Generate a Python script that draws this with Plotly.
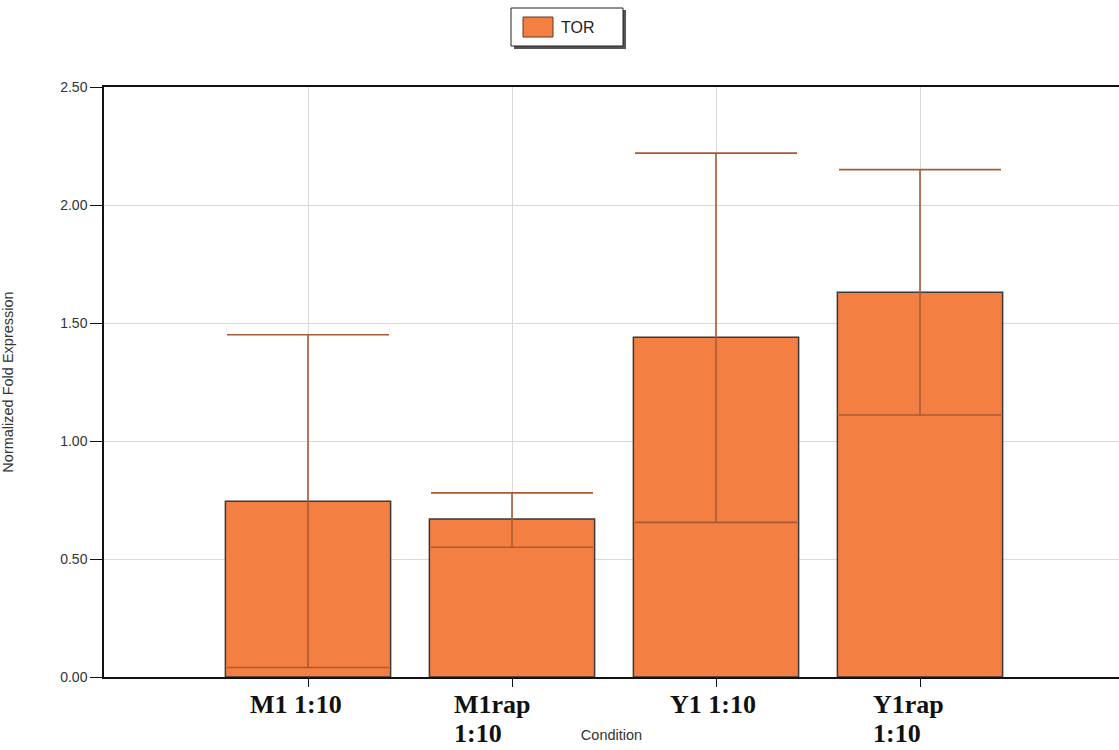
import plotly.graph_objects as go

# Normalized fold expression of TOR per condition
conditions = ["M1 1:10", "M1rap 1:10", "Y1 1:10", "Y1rap 1:10"]
label_line1 = ["M1 1:10", "M1rap", "Y1 1:10", "Y1rap"]
label_line2 = ["", "1:10", "", "1:10"]
label_shift = [-60, -60, -48, -49]
expression = [0.745, 0.67, 1.44, 1.63]
error_plus = [0.705, 0.11, 0.78, 0.52]
error_minus = [0.705, 0.12, 0.785, 0.52]
y_ticks = [0.0, 0.5, 1.0, 1.5, 2.0, 2.5]

BAR = "#f47f43"
EDGE = "#3a3a3a"
ERR = "#a85a35"
SERIF = "Liberation Serif, Times New Roman, serif"

W, H = 1119, 750
L, R, T, B = 104, 0, 87, 73
PW, PH = W - L - R, H - T - B


def px(x):
    return (x - L) / PW


def py(y):
    return (H - B - y) / PH


xpos = list(range(len(conditions)))

fig = go.Figure()
fig.add_trace(go.Bar(
    x=xpos,
    y=expression,
    width=0.81,
    name="TOR",
    marker=dict(color=BAR, line=dict(color=EDGE, width=1.5)),
    error_y=dict(type="data", array=error_plus, arrayminus=error_minus,
                 symmetric=False, color=ERR, thickness=1.6, width=81),
    showlegend=False,
))

# category labels under the axis (second line where the label wraps)
for i, (l1, l2, sh) in enumerate(zip(label_line1, label_line2, label_shift)):
    fig.add_annotation(
        x=i, xref="x", y=py(688), yref="paper",
        text=f"<b>{l1}</b>", showarrow=False,
        xanchor="left", yanchor="top", align="left", xshift=sh,
        font=dict(family=SERIF, size=26, color="#111111"),
    )
    if l2:
        fig.add_annotation(
            x=i, xref="x", y=py(750), yref="paper",
            text=f"<b>{l2}</b>", showarrow=False,
            xanchor="left", yanchor="bottom", align="left", xshift=sh,
            font=dict(family=SERIF, size=26, color="#111111"),
        )

# legend box
fig.add_shape(type="rect", xref="paper", yref="paper",
              x0=px(514), x1=px(626), y0=py(49), y1=py(10),
              line=dict(width=0), fillcolor="#555555", layer="above")
fig.add_shape(type="rect", xref="paper", yref="paper",
              x0=px(511), x1=px(623), y0=py(46), y1=py(8),
              line=dict(color="#222222", width=1), fillcolor="white", layer="above")
fig.add_shape(type="rect", xref="paper", yref="paper",
              x0=px(523), x1=px(553), y0=py(37), y1=py(17),
              line=dict(color="#5a3a2a", width=1), fillcolor=BAR, layer="above")
fig.add_annotation(x=px(559), y=py(27), xref="paper", yref="paper",
                   text="TOR", showarrow=False, xanchor="left", yanchor="middle",
                   font=dict(family="Liberation Sans, Arial, sans-serif", size=16, color="#222222"))

fig.update_layout(
    width=W, height=H,
    margin=dict(l=L, r=R, t=T, b=B),
    paper_bgcolor="white", plot_bgcolor="white",
    font=dict(family="Liberation Sans, Arial, sans-serif", color="#333333"),
    xaxis=dict(
        range=[-1, -1 + PW / 204.0],
        tickvals=xpos, showticklabels=False,
        ticks="outside", ticklen=8, tickcolor="#111111",
        showgrid=True, gridcolor="#d9d9d9", gridwidth=1,
        showline=True, linecolor="#111111", linewidth=1.5, mirror=True,
        zeroline=False,
        title=dict(text="Condition", font=dict(size=14.5, color="#333333"), standoff=44),
    ),
    yaxis=dict(
        range=[0, 2.5],
        tickvals=y_ticks, tickformat=".2f",
        ticks="outside", ticklen=12, tickcolor="#111111",
        tickfont=dict(size=14, color="#333333"),
        showgrid=True, gridcolor="#d9d9d9", gridwidth=1,
        showline=True, linecolor="#111111", linewidth=1.5,
        zeroline=False,
        title=dict(text="Normalized Fold Expression", font=dict(size=14.5, color="#333333"), standoff=44),
    ),
)

fig.write_html("out.html")
